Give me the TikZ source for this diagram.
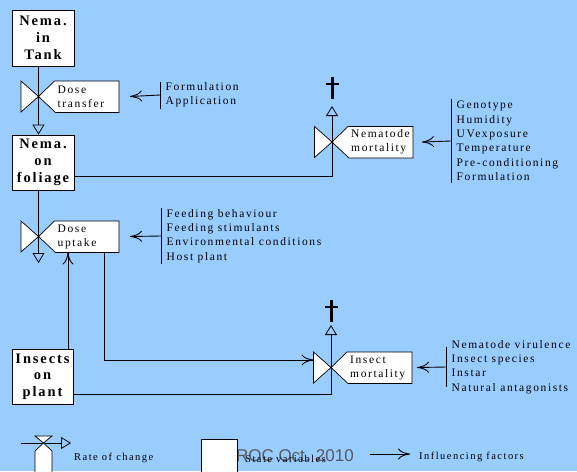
\documentclass[tikz,border=0pt]{standalone}
\usepackage{fontspec}
\setmainfont{Liberation Serif}
\newfontfamily\boxfont[LetterSpace=13]{Liberation Serif}
\newfontfamily\tagfont[LetterSpace=14]{Liberation Serif}
\newfontfamily\markfont{Liberation Sans}
\usetikzlibrary{arrows.meta,calc}
\definecolor{skyback}{RGB}{153,204,255}
\definecolor{markgray}{RGB}{85,90,95}
\tikzset{
  statebox/.style={draw, fill=white, line width=0.8pt, minimum width=62pt, minimum height=55pt, inner sep=0pt, align=center, font=\boxfont\bfseries\fontsize{14.5}{16.7}\selectfont},
  valvebody/.style={draw, fill=white, line width=0.7pt},
  tagtext/.style={inner sep=0pt, align=left, font=\tagfont\fontsize{11.5}{14}\selectfont},
  factortext/.style={inner xsep=5.5pt, inner ysep=0pt, align=left, font=\tagfont\fontsize{11.5}{14.4}\selectfont},
  factorbar/.style={line width=1pt},
  link/.style={line width=0.8pt},
  flow/.style={link, -{Triangle[open, length=10pt, width=12pt]}},
  infl/.style={line width=0.9pt, -{Computer Modern Rightarrow[length=12pt, width=11pt]}},
  dagger/.style={line width=3pt},
  legendtext/.style={inner sep=0pt, font=\tagfont\fontsize{10.5}{12}\selectfont},
}
% rate of change: name, x, y, right edge, text
\newcommand\valve[5]{%
  \coordinate (#1) at (#2,#3);
  \coordinate (#1-w) at (#2-17.5,#3);
  \coordinate (#1-e) at (#4,#3);
  \coordinate (#1-se) at (#4,#3+16);
  \draw[valvebody] (#2-17.5,#3-15.5) -- (#1) -- (#2-17.5,#3+15.5) -- cycle;
  \draw[valvebody] (#1) -- (#2+16,#3-15.5) -- (#4,#3-15.5) -- (#4,#3+16) -- (#2+17,#3+16) -- cycle;
  \node[tagtext, anchor=west] (#1-l) at (#2+19,#3) {#5};
}
% influencing factors: name, bar x, y, half bar, lines
\newcommand\factors[5]{%
  \coordinate (#1) at (#2,#3);
  \draw[factorbar] (#2,#3-#4) -- (#2,#3+#4);
  \node[factortext, anchor=west] (#1-t) at (#1) {#5};
}
\newcommand\deathmark[2]{%
  \draw[dagger] (#1,#2) -- (#1,#2+22);
  \draw[line width=2.6pt] (#1-6.5,#2+7) -- (#1+6.5,#2+7);
}

\begin{document}
\begin{tikzpicture}[x=1pt, y=-1pt]
  \fill[skyback] (0,0) rectangle (577,471);
  \clip (0,0) rectangle (577,471);

  % state variables
  \node[statebox, minimum height=56pt] (tank) at (43,38) {Nema.\\in\\Tank};
  \node[statebox] (foliage) at (43,162.5) {Nema.\\on\\foliage};
  \node[statebox, minimum width=61pt] (insects) at (42.5,376.5) {Insects\\on\\plant};

  % rates
  \valve{dose}{38.5}{96.5}{119}{Dose\\transfer}
  \valve{uptake}{38.5}{236.5}{119}{Dose\\uptake}
  \valve{nemdeath}{332}{142}{413}{Nematode\\mortality}
  \valve{insdeath}{331}{367.5}{412}{Insect\\mortality}

  % flows
  \draw[link] (tank.south -| dose) -- (dose);
  \draw[flow] (dose) -- (foliage.north -| dose);
  \draw[link] (foliage.south -| uptake) -- (uptake);
  \coordinate (drain) at ($(uptake)+(0,26.5)$);
  \draw[flow] (uptake) -- (drain);

  \draw[link] ($(foliage.south east)+(0,-14)$) -| (nemdeath);
  \coordinate (nemgone) at ($(nemdeath)+(0,-36)$);
  \draw[flow] (nemdeath) -- (nemgone);
  \deathmark{332}{77}

  \draw[link] ($(insects.south east)+(0,-10)$) -| (insdeath);
  \coordinate (insgone) at ($(insdeath)+(0,-42.5)$);
  \draw[flow] (insdeath) -- (insgone);
  \deathmark{331}{300}

  \draw[infl] ($(uptake-se)+(-15,0)$) |- ($(insdeath-w)+(0,-7.5)$);
  \draw[infl] ($(insects.north)+(25.5,0)$) -- ($(uptake)+(29.5,16)$);

  % factors
  \factors{fA}{160}{95}{13.5}{Formulation\\Application}
  \draw[infl] (fA) -- ($(dose-e)+(11,0)$);
  \factors{fB}{451}{141}{42}{Genotype\\Humidity\\UVexposure\\Temperature\\Pre-conditioning\\Formulation}
  \draw[infl] (fB) -- ($(nemdeath-e)+(9,0)$);
  \factors{fC}{161}{236}{28}{Feeding behaviour\\Feeding stimulants\\Environmental conditions\\Host plant}
  \draw[infl] (fC) -- ($(uptake-e)+(11,0)$);
  \factors{fD}{446}{367}{20}{Nematode virulence\\Insect species\\Instar\\Natural antagonists}
  \draw[infl] (fD) -- ($(insdeath-e)+(5,0)$);

  % legend
  \coordinate (rateL) at (21,443);
  \coordinate (rateR) at (71,443);
  \draw[flow] (rateL) -- (rateR);
  \draw[valvebody] (35,436) -- (52,436) -- (43.5,443) -- cycle;
  \draw[valvebody] (43.5,443) -- (52,451) -- (52,480) -- (35,480) -- (35,451) -- cycle;
  \node[legendtext, anchor=west] (ratetxt) at (74,458) {Rate of change};

  \node[font=\markfont\fontsize{17}{19}\selectfont, text=markgray, anchor=base east, inner sep=0pt] (mark) at (354,461) {MIROC Oct. 2010};
  \draw[valvebody] (201,439) rectangle (237,480);
  \node[legendtext, anchor=west] (statetxt) at (245,459) {State variables};

  \coordinate (inflL) at (370,454);
  \coordinate (inflR) at (410,454);
  \draw[infl] (inflL) -- (inflR);
  \node[legendtext, anchor=west] (infltxt) at (419,457) {Influencing factors};
\end{tikzpicture}
\end{document}
